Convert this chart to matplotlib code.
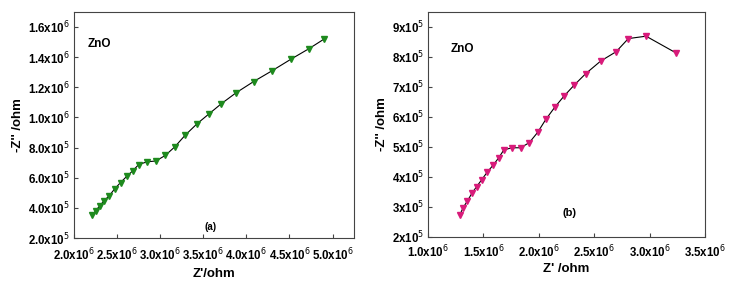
import numpy as np
import matplotlib.pyplot as plt
from matplotlib.ticker import FixedLocator, FuncFormatter

plt.rcParams['font.family'] = ['Liberation Sans', 'DejaVu Sans']

# panel (a)
za_re = [2.21e6, 2.25e6, 2.30e6, 2.35e6, 2.41e6, 2.47e6, 2.54e6, 2.61e6, 2.68e6, 2.75e6,
         2.845e6, 2.95e6, 3.06e6, 3.17e6, 3.29e6, 3.43e6, 3.57e6, 3.71e6, 3.88e6, 4.085e6,
         4.30e6, 4.52e6, 4.73e6, 4.90e6]
za_im = [3.50e5, 3.80e5, 4.15e5, 4.48e5, 4.81e5, 5.25e5, 5.68e5, 6.08e5, 6.45e5, 6.87e5,
         7.05e5, 7.11e5, 7.48e5, 8.05e5, 8.82e5, 9.59e5, 1.025e6, 1.091e6, 1.163e6, 1.238e6,
         1.310e6, 1.387e6, 1.457e6, 1.519e6]

# panel (b)
zb_re = [1.286e6, 1.316e6, 1.355e6, 1.395e6, 1.437e6, 1.485e6, 1.536e6, 1.587e6, 1.636e6,
         1.684e6, 1.756e6, 1.834e6, 1.913e6, 1.988e6, 2.063e6, 2.145e6, 2.226e6, 2.316e6,
         2.422e6, 2.557e6, 2.696e6, 2.807e6, 2.967e6, 3.238e6]
zb_im = [2.73e5, 2.97e5, 3.20e5, 3.45e5, 3.67e5, 3.91e5, 4.17e5, 4.39e5, 4.63e5, 4.90e5,
         4.97e5, 4.97e5, 5.14e5, 5.48e5, 5.92e5, 6.33e5, 6.69e5, 7.05e5, 7.44e5, 7.86e5,
         8.17e5, 8.61e5, 8.69e5, 8.13e5]

xa_ticks = [2.0e6, 2.5e6, 3.0e6, 3.5e6, 4.0e6, 4.5e6, 5.0e6]
ya_ticks = [2e5, 4e5, 6e5, 8e5, 1.0e6, 1.2e6, 1.4e6, 1.6e6]
xb_ticks = [1.0e6, 1.5e6, 2.0e6, 2.5e6, 3.0e6, 3.5e6]
yb_ticks = [2e5, 3e5, 4e5, 5e5, 6e5, 7e5, 8e5, 9e5]


def sci(decimals):
    def f(v, pos):
        e = int(np.floor(np.log10(v) + 1e-9))
        m = v / 10 ** e
        return ('%.*f' % (decimals, m)) + 'x10$^{%d}$' % e
    return FuncFormatter(f)


fig = plt.figure(figsize=(7.33, 2.83), dpi=100)
ax1 = fig.add_axes([0.101, 0.159, 0.382, 0.799])
ax2 = fig.add_axes([0.584, 0.163, 0.378, 0.795])

ax1.plot(za_re, za_im, color='black', lw=0.8, marker='v', ms=4,
         mfc='#1e8a1e', mec='#1e8a1e')
ax2.plot(zb_re, zb_im, color='black', lw=0.8, marker='v', ms=4,
         mfc='#d81b7a', mec='#d81b7a')

ax1.set_xlim(2.0e6, 5.25e6)
ax1.set_ylim(2e5, 1.7e6)
ax2.set_xlim(1.0e6, 3.5e6)
ax2.set_ylim(2e5, 9.5e5)

for ax, xt, yt, xd, yd, xp in [(ax1, xa_ticks, ya_ticks, 1, 1, 6.5),
                               (ax2, xb_ticks, yb_ticks, 1, 0, 5)]:
    ax.xaxis.set_major_locator(FixedLocator(xt))
    ax.yaxis.set_major_locator(FixedLocator(yt))
    ax.xaxis.set_major_formatter(sci(xd))
    ax.yaxis.set_major_formatter(sci(yd))
    ax.tick_params(direction='in', length=3, width=0.8, color='#444444',
                   labelsize=8.3)
    ax.tick_params(axis='x', pad=xp)
    ax.tick_params(axis='y', pad=3)
    for lab in ax.get_xticklabels() + ax.get_yticklabels():
        lab.set_fontweight('bold')
    for s in ax.spines.values():
        s.set_color('#444444')
        s.set_linewidth(0.8)
    ax.set_ylabel("-Z'' /ohm", fontsize=9.5, fontweight='bold', labelpad=3)

ax1.set_xlabel("Z'/ohm", fontsize=9.5, fontweight='bold', labelpad=3)
ax2.set_xlabel("Z' /ohm", fontsize=9.5, fontweight='bold', labelpad=2)

ax1.text(0.05, 0.86, 'ZnO', transform=ax1.transAxes, fontsize=8.5,
         fontweight='bold', va='center')
ax2.text(0.08, 0.835, 'ZnO', transform=ax2.transAxes, fontsize=8.5,
         fontweight='bold', va='center')
ax1.text(0.486, 0.05, '(a)', transform=ax1.transAxes, fontsize=7,
         fontweight='bold', ha='center', va='center')
ax2.text(0.51, 0.107, '(b)', transform=ax2.transAxes, fontsize=8,
         fontweight='bold', ha='center', va='center')

fig.savefig('out.png', dpi=100)
